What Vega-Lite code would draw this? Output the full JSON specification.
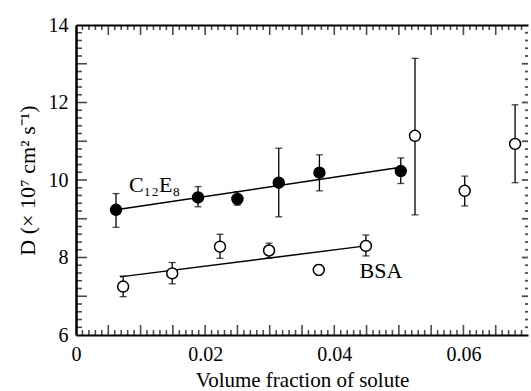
{
  "$schema": "https://vega.github.io/schema/vega-lite/v6.json",
  "autosize": {"type": "none"},
  "padding": {"left": 76, "top": 25, "right": 3, "bottom": 56},
  "width": 452,
  "height": 310,
  "background": "white",
  "config": {
    "view": {"stroke": null},
    "axis": {
      "grid": false,
      "domainColor": "black",
      "domainWidth": 2,
      "labelColor": "black",
      "titleColor": "black",
      "labelFont": "Liberation Serif",
      "titleFont": "Liberation Serif",
      "labelFontSize": 20,
      "titleFontSize": 22,
      "titleFontWeight": "normal",
      "labelFlush": false,
      "labelOverlap": false
    }
  },
  "datasets": {
    "pts": [
      {"series": "C12E8", "x": 0.0062, "y": 9.23, "lo": 8.78, "hi": 9.65},
      {"series": "C12E8", "x": 0.0189, "y": 9.55, "lo": 9.31, "hi": 9.83},
      {"series": "C12E8", "x": 0.0250, "y": 9.51, "lo": 9.35, "hi": 9.70},
      {"series": "C12E8", "x": 0.0314, "y": 9.93, "lo": 9.05, "hi": 10.82},
      {"series": "C12E8", "x": 0.0377, "y": 10.19, "lo": 9.72, "hi": 10.65},
      {"series": "C12E8", "x": 0.0503, "y": 10.23, "lo": 9.91, "hi": 10.57},
      {"series": "BSA", "x": 0.0073, "y": 7.25, "lo": 6.99, "hi": 7.52},
      {"series": "BSA", "x": 0.0149, "y": 7.59, "lo": 7.32, "hi": 7.87},
      {"series": "BSA", "x": 0.0223, "y": 8.28, "lo": 7.98, "hi": 8.60},
      {"series": "BSA", "x": 0.0299, "y": 8.18, "lo": 7.99, "hi": 8.37},
      {"series": "BSA", "x": 0.0376, "y": 7.68, "lo": 7.55, "hi": 7.81},
      {"series": "BSA", "x": 0.0449, "y": 8.30, "lo": 8.04, "hi": 8.58},
      {"series": "BSA", "x": 0.0525, "y": 11.14, "lo": 9.10, "hi": 13.14},
      {"series": "BSA", "x": 0.0602, "y": 9.72, "lo": 9.33, "hi": 10.10},
      {"series": "BSA", "x": 0.0680, "y": 10.93, "lo": 9.93, "hi": 11.94}
    ],
    "fits": [
      {"series": "C12E8", "x": 0.0062, "y": 9.23},
      {"series": "C12E8", "x": 0.0503, "y": 10.33},
      {"series": "BSA", "x": 0.0068, "y": 7.50},
      {"series": "BSA", "x": 0.0449, "y": 8.30}
    ],
    "labels": [
      {"text": "C₁₂E₈", "x": 0.0082, "y": 9.70},
      {"text": "BSA", "x": 0.0439, "y": 7.48}
    ],
    "xticks": [
      {"v": 0.001, "major": 0}, {"v": 0.002, "major": 0}, {"v": 0.003, "major": 0}, {"v": 0.004, "major": 0}, {"v": 0.005, "major": 1},
      {"v": 0.006, "major": 0}, {"v": 0.007, "major": 0}, {"v": 0.008, "major": 0}, {"v": 0.009, "major": 0}, {"v": 0.010, "major": 1},
      {"v": 0.011, "major": 0}, {"v": 0.012, "major": 0}, {"v": 0.013, "major": 0}, {"v": 0.014, "major": 0}, {"v": 0.015, "major": 1},
      {"v": 0.016, "major": 0}, {"v": 0.017, "major": 0}, {"v": 0.018, "major": 0}, {"v": 0.019, "major": 0}, {"v": 0.020, "major": 1},
      {"v": 0.021, "major": 0}, {"v": 0.022, "major": 0}, {"v": 0.023, "major": 0}, {"v": 0.024, "major": 0}, {"v": 0.025, "major": 1},
      {"v": 0.026, "major": 0}, {"v": 0.027, "major": 0}, {"v": 0.028, "major": 0}, {"v": 0.029, "major": 0}, {"v": 0.030, "major": 1},
      {"v": 0.031, "major": 0}, {"v": 0.032, "major": 0}, {"v": 0.033, "major": 0}, {"v": 0.034, "major": 0}, {"v": 0.035, "major": 1},
      {"v": 0.036, "major": 0}, {"v": 0.037, "major": 0}, {"v": 0.038, "major": 0}, {"v": 0.039, "major": 0}, {"v": 0.040, "major": 1},
      {"v": 0.041, "major": 0}, {"v": 0.042, "major": 0}, {"v": 0.043, "major": 0}, {"v": 0.044, "major": 0}, {"v": 0.045, "major": 1},
      {"v": 0.046, "major": 0}, {"v": 0.047, "major": 0}, {"v": 0.048, "major": 0}, {"v": 0.049, "major": 0}, {"v": 0.050, "major": 1},
      {"v": 0.051, "major": 0}, {"v": 0.052, "major": 0}, {"v": 0.053, "major": 0}, {"v": 0.054, "major": 0}, {"v": 0.055, "major": 1},
      {"v": 0.056, "major": 0}, {"v": 0.057, "major": 0}, {"v": 0.058, "major": 0}, {"v": 0.059, "major": 0}, {"v": 0.060, "major": 1},
      {"v": 0.061, "major": 0}, {"v": 0.062, "major": 0}, {"v": 0.063, "major": 0}, {"v": 0.064, "major": 0}, {"v": 0.065, "major": 1},
      {"v": 0.066, "major": 0}, {"v": 0.067, "major": 0}, {"v": 0.068, "major": 0}, {"v": 0.069, "major": 0}
    ],
    "yticks": [
      {"v": 6.2, "major": 0}, {"v": 6.4, "major": 0}, {"v": 6.6, "major": 0}, {"v": 6.8, "major": 0}, {"v": 7, "major": 1},
      {"v": 7.2, "major": 0}, {"v": 7.4, "major": 0}, {"v": 7.6, "major": 0}, {"v": 7.8, "major": 0}, {"v": 8, "major": 1},
      {"v": 8.2, "major": 0}, {"v": 8.4, "major": 0}, {"v": 8.6, "major": 0}, {"v": 8.8, "major": 0}, {"v": 9, "major": 1},
      {"v": 9.2, "major": 0}, {"v": 9.4, "major": 0}, {"v": 9.6, "major": 0}, {"v": 9.8, "major": 0}, {"v": 10, "major": 1},
      {"v": 10.2, "major": 0}, {"v": 10.4, "major": 0}, {"v": 10.6, "major": 0}, {"v": 10.8, "major": 0}, {"v": 11, "major": 1},
      {"v": 11.2, "major": 0}, {"v": 11.4, "major": 0}, {"v": 11.6, "major": 0}, {"v": 11.8, "major": 0}, {"v": 12, "major": 1},
      {"v": 12.2, "major": 0}, {"v": 12.4, "major": 0}, {"v": 12.6, "major": 0}, {"v": 12.8, "major": 0}, {"v": 13, "major": 1},
      {"v": 13.2, "major": 0}, {"v": 13.4, "major": 0}, {"v": 13.6, "major": 0}, {"v": 13.8, "major": 0}
    ]
  },
  "resolve": {"axis": {"x": "independent", "y": "independent"}},
  "layer": [
    {
      "data": {"name": "pts"},
      "mark": {"type": "rule", "color": "black", "strokeWidth": 1.3},
      "encoding": {
        "x": {"field": "x", "type": "quantitative", "scale": {"domain": [0, 0.07], "nice": false, "zero": false},
              "axis": {"orient": "bottom", "values": [0, 0.02, 0.04, 0.06], "domain": true, "ticks": false, "format": "~g",
                       "labelPadding": 9, "title": "Volume fraction of solute", "titleFontSize": 21,
                       "titleY": 51, "titleBaseline": "alphabetic"}},
        "y": {"field": "lo", "type": "quantitative", "scale": {"domain": [6, 14], "nice": false, "zero": false},
              "axis": {"orient": "left", "values": [6, 8, 10, 12, 14], "domain": true, "domainWidth": 2.5, "ticks": false,
                       "labelPadding": 8, "title": "D (× 10⁷ cm² s⁻¹)",
                       "titleX": -42, "titleY": 155, "titleBaseline": "alphabetic", "titleAngle": -90}},
        "y2": {"field": "hi"}
      }
    },
    {
      "data": {"name": "pts"},
      "mark": {"type": "tick", "orient": "horizontal", "color": "black", "size": 7, "thickness": 1.3},
      "encoding": {
        "x": {"field": "x", "type": "quantitative",
              "axis": {"orient": "top", "domain": true, "ticks": false, "labels": false, "title": null}},
        "y": {"field": "lo", "type": "quantitative", "axis": null}
      }
    },
    {
      "data": {"name": "pts"},
      "mark": {"type": "tick", "orient": "horizontal", "color": "black", "size": 7, "thickness": 1.3},
      "encoding": {
        "x": {"field": "x", "type": "quantitative", "axis": null},
        "y": {"field": "hi", "type": "quantitative", "axis": null}
      }
    },
    {
      "data": {"name": "xticks"},
      "transform": [{"filter": "datum.major == 0"}],
      "mark": {"type": "tick", "orient": "vertical", "color": "black", "size": 5, "thickness": 1.6, "yOffset": -2.5},
      "encoding": {
        "x": {"field": "v", "type": "quantitative", "axis": null},
        "y": {"datum": 6, "type": "quantitative", "axis": null}
      }
    },
    {
      "data": {"name": "xticks"},
      "transform": [{"filter": "datum.major == 1"}],
      "mark": {"type": "tick", "orient": "vertical", "color": "black", "size": 10, "thickness": 1.6, "yOffset": -5},
      "encoding": {
        "x": {"field": "v", "type": "quantitative", "axis": null},
        "y": {"datum": 6, "type": "quantitative", "axis": null}
      }
    },
    {
      "data": {"name": "xticks"},
      "transform": [{"filter": "datum.major == 0"}],
      "mark": {"type": "tick", "orient": "vertical", "color": "black", "size": 5, "thickness": 1.6, "yOffset": 2.5},
      "encoding": {
        "x": {"field": "v", "type": "quantitative", "axis": null},
        "y": {"datum": 14, "type": "quantitative", "axis": null}
      }
    },
    {
      "data": {"name": "xticks"},
      "transform": [{"filter": "datum.major == 1"}],
      "mark": {"type": "tick", "orient": "vertical", "color": "black", "size": 10, "thickness": 1.6, "yOffset": 5},
      "encoding": {
        "x": {"field": "v", "type": "quantitative", "axis": null},
        "y": {"datum": 14, "type": "quantitative", "axis": null}
      }
    },
    {
      "data": {"name": "yticks"},
      "transform": [{"filter": "datum.major == 0"}],
      "mark": {"type": "tick", "orient": "horizontal", "color": "black", "size": 6, "thickness": 1.6, "xOffset": 3},
      "encoding": {
        "y": {"field": "v", "type": "quantitative", "axis": null},
        "x": {"datum": 0, "type": "quantitative", "axis": null}
      }
    },
    {
      "data": {"name": "yticks"},
      "transform": [{"filter": "datum.major == 1"}],
      "mark": {"type": "tick", "orient": "horizontal", "color": "black", "size": 11, "thickness": 1.6, "xOffset": 5.5},
      "encoding": {
        "y": {"field": "v", "type": "quantitative", "axis": null},
        "x": {"datum": 0, "type": "quantitative", "axis": null}
      }
    },
    {
      "data": {"name": "yticks"},
      "transform": [{"filter": "datum.major == 0"}],
      "mark": {"type": "tick", "orient": "horizontal", "color": "black", "size": 3, "thickness": 1.8, "xOffset": -1.5},
      "encoding": {
        "y": {"field": "v", "type": "quantitative", "axis": null},
        "x": {"datum": 0.07, "type": "quantitative", "axis": null}
      }
    },
    {
      "data": {"name": "yticks"},
      "transform": [{"filter": "datum.major == 1"}],
      "mark": {"type": "tick", "orient": "horizontal", "color": "black", "size": 6, "thickness": 1.8, "xOffset": -3},
      "encoding": {
        "y": {"field": "v", "type": "quantitative", "axis": null},
        "x": {"datum": 0.07, "type": "quantitative", "axis": null}
      }
    },
    {
      "data": {"name": "fits"},
      "mark": {"type": "line", "color": "black", "strokeWidth": 1.5},
      "encoding": {
        "x": {"field": "x", "type": "quantitative", "axis": null},
        "y": {"field": "y", "type": "quantitative", "axis": null},
        "detail": {"field": "series"}
      }
    },
    {
      "data": {"name": "pts"},
      "mark": {"type": "point", "shape": "circle", "size": 120, "stroke": "black", "strokeWidth": 1.5, "opacity": 1, "fillOpacity": 1},
      "encoding": {
        "x": {"field": "x", "type": "quantitative", "axis": null},
        "y": {"field": "y", "type": "quantitative", "axis": null},
        "fill": {"field": "series", "type": "nominal", "scale": {"domain": ["C12E8", "BSA"], "range": ["black", "white"]}, "legend": null}
      }
    },
    {
      "data": {"name": "labels"},
      "mark": {"type": "text", "align": "left", "baseline": "alphabetic", "font": "Liberation Serif", "fontSize": 22, "color": "black"},
      "encoding": {
        "x": {"field": "x", "type": "quantitative", "axis": null},
        "y": {"field": "y", "type": "quantitative", "axis": null},
        "text": {"field": "text"}
      }
    }
  ]
}
